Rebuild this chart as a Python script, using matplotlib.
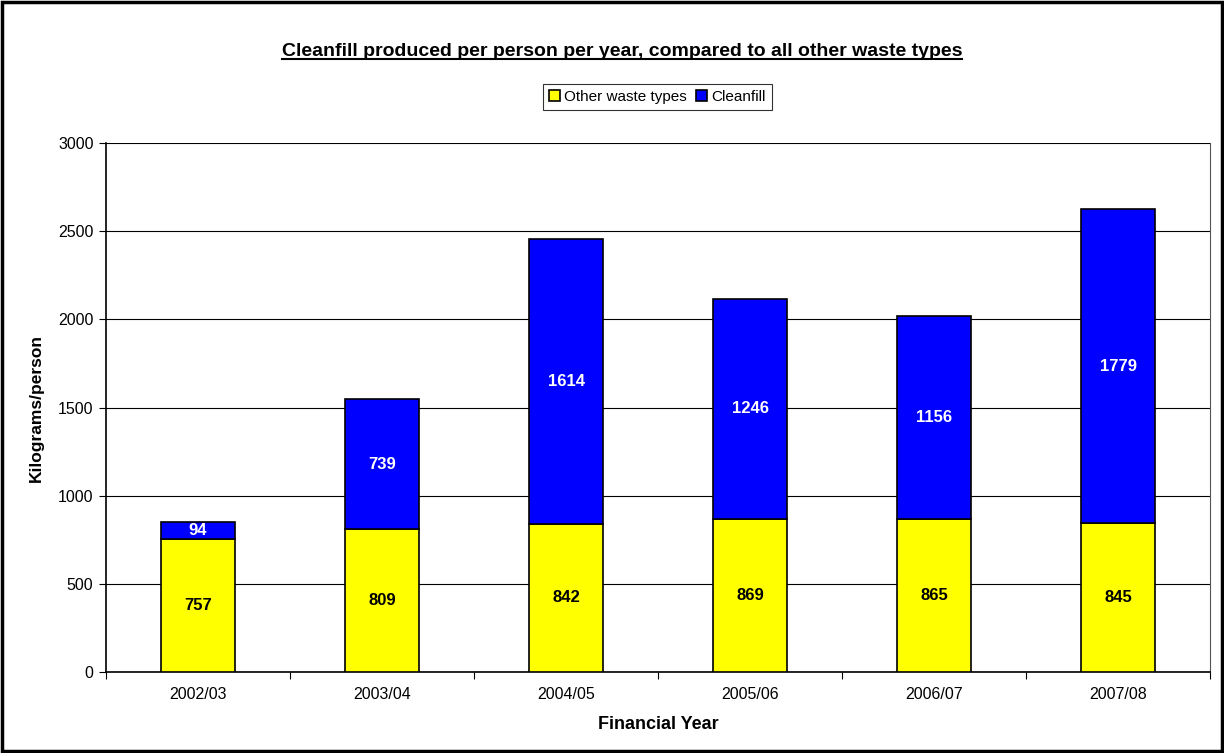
import matplotlib.pyplot as plt
import numpy as np
from matplotlib.lines import Line2D
from matplotlib.patches import Rectangle

plt.rcParams['font.family'] = ['Liberation Sans', 'DejaVu Sans']

years = ["2002/03", "2003/04", "2004/05", "2005/06", "2006/07", "2007/08"]
other_waste = [757, 809, 842, 869, 865, 845]
cleanfill = [94, 739, 1614, 1246, 1156, 1779]

fig = plt.figure(figsize=(12.24, 7.53), dpi=100)
ax = fig.add_axes([0.0866, 0.1076, 0.9020, 0.7024])

x = np.arange(len(years))
b1 = ax.bar(x, other_waste, width=0.4, color='#FFFF00', edgecolor='black', linewidth=1.2,
            label="Other waste types", zorder=3)
b2 = ax.bar(x, cleanfill, width=0.4, bottom=other_waste, color='#0000FF', edgecolor='black',
            linewidth=1.2, label="Cleanfill", zorder=3)

# value labels in the middle of each segment
for i in range(len(years)):
    ax.text(x[i], other_waste[i] / 2, str(other_waste[i]), ha='center', va='center',
            fontsize=12, fontweight='bold', color='black', zorder=4)
    ax.text(x[i], other_waste[i] + cleanfill[i] / 2, str(cleanfill[i]), ha='center', va='center',
            fontsize=12, fontweight='bold', color='white', zorder=4)

ax.set_xlim(-0.5, len(years) - 0.5)
ax.set_ylim(0, 3000)
ax.set_yticks(np.arange(0, 3001, 500))
ax.yaxis.grid(True, color='black', linewidth=0.8)
ax.set_axisbelow(True)

# excel-like category axis: ticks between categories, labels at centers
ax.set_xticks(np.arange(-0.5, len(years), 1))
ax.set_xticklabels([])
ax.set_xticks(x, minor=True)
ax.set_xticklabels(years, minor=True)
ax.tick_params(axis='x', which='minor', length=0, pad=11, labelsize=11.5)
ax.tick_params(axis='x', which='major', length=5, direction='out')
ax.tick_params(axis='y', length=5, direction='out', labelsize=11.5, pad=4)

ax.spines['top'].set_visible(False)
ax.spines['right'].set_color('#555555')
ax.spines['left'].set_linewidth(1.2)
ax.spines['bottom'].set_linewidth(1.2)

ax.set_ylabel("Kilograms/person", fontsize=12.5, fontweight='bold', labelpad=10)
ax.set_xlabel("Financial Year", fontsize=13, fontweight='bold', labelpad=10)

leg = fig.legend(handles=[b1, b2], loc='center', bbox_to_anchor=(0.537, 0.871), ncol=2,
                 fontsize=11, frameon=True, fancybox=False, edgecolor='black',
                 handlelength=0.7, handleheight=0.7, handletextpad=0.3, columnspacing=0.6,
                 borderpad=0.4, borderaxespad=0)
leg.get_frame().set_linewidth(0.8)

title = fig.text(0.508, 0.932, "Cleanfill produced per person per year, compared to all other waste types",
                 ha='center', va='center', fontsize=14, fontweight='bold')

# underline the title
fig.canvas.draw()
bb = title.get_window_extent().transformed(fig.transFigure.inverted())
fig.add_artist(Line2D([bb.x0, bb.x1], [bb.y0 + 0.001, bb.y0 + 0.001], color='black', linewidth=1.5,
                      transform=fig.transFigure))

# chart border
fig.add_artist(Rectangle((0.002, 0.003), 0.996, 0.994, fill=False, edgecolor='black', linewidth=2.5,
                         transform=fig.transFigure))

fig.savefig("out.png", dpi=100)
